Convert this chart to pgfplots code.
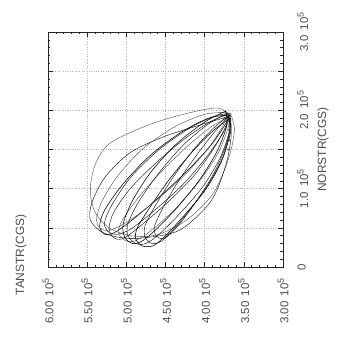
\documentclass[border=0pt]{standalone}
\usepackage{pgfplots}
\pgfplotsset{compat=1.18}
\usepackage{fontspec}
\setmainfont{Liberation Sans}
\definecolor{curve}{HTML}{4A4A4A}
\newcommand{\ef}{\hspace{0.45em}10\raisebox{0.75ex}{\fontsize{9}{9}\selectfont 5}}
\begin{document}
\begin{tikzpicture}
\begin{axis}[
  scale only axis, width=235bp, height=235bp,
  xmin=3, xmax=6, ymin=0, ymax=3, x dir=reverse,
  xtick={3,3.5,4,4.5,5,5.5,6},
  xticklabels={3.00\ef,3.50\ef,4.00\ef,4.50\ef,5.00\ef,5.50\ef,6.00\ef},
  ytick={0,0.5,1,1.5,2,2.5,3},
  yticklabels={0,,1.0\ef,,2.0\ef,,3.0\ef},
  yticklabel pos=right,
  minor x tick num=4, minor y tick num=4,
  tick align=inside, xtick pos=both, ytick pos=both,
  major tick length=5bp, minor tick length=2.5bp,
  tick style={black!85, line width=0.6pt},
  axis line style={black!85, line width=0.9pt},
  grid=major, grid style={dotted, gray!60, line width=0.5pt},
  xticklabel style={rotate=90, anchor=east, font=\fontsize{11.5}{14}\selectfont, xshift=-8bp, text=black!70},
  yticklabel style={rotate=90, anchor=north, font=\fontsize{11.5}{14}\selectfont, yshift=-11bp, text=black!70},
  cycle list={{curve, solid, line width=0.55pt, mark=none}},
  every axis plot/.append style={smooth},
]
% outer loops
\addplot coordinates {(3.66,1.93) (3.84,2.03) (4.23,1.96) (4.70,1.82) (5.21,1.58) (5.40,1.30) (5.46,0.98) (5.40,0.70) (5.22,0.50) (4.95,0.40) (4.61,0.41) (4.23,0.60) (3.89,0.94) (3.69,1.40) (3.62,1.75) (3.66,1.93)};
\addplot coordinates {(3.70,1.92) (4.10,1.80) (4.53,1.66) (4.95,1.46) (5.27,1.15) (5.44,0.82) (5.46,0.60) (5.32,0.45) (5.10,0.38) (4.80,0.37) (4.32,0.47) (3.92,0.84) (3.73,1.30) (3.66,1.70) (3.70,1.92)};
% narrow loops
\addplot coordinates {(3.69,1.94) (3.95,1.90) (4.30,1.72) (4.70,1.42) (5.05,1.05) (5.28,0.72) (5.34,0.52) (5.28,0.42) (5.15,0.44) (4.90,0.62) (4.55,0.92) (4.20,1.25) (3.90,1.58) (3.72,1.85) (3.69,1.94)};
\addplot coordinates {(3.70,1.95) (3.92,1.86) (4.25,1.64) (4.62,1.33) (4.95,1.00) (5.16,0.70) (5.22,0.50) (5.17,0.38) (5.05,0.36) (4.85,0.50) (4.50,0.80) (4.15,1.15) (3.88,1.52) (3.72,1.82) (3.70,1.95)};
\addplot coordinates {(3.68,1.92) (3.90,1.80) (4.20,1.56) (4.55,1.22) (4.85,0.88) (5.05,0.60) (5.10,0.44) (5.02,0.34) (4.90,0.33) (4.70,0.45) (4.40,0.72) (4.08,1.08) (3.83,1.45) (3.70,1.78) (3.68,1.92)};
\addplot coordinates {(3.71,1.96) (3.96,1.82) (4.28,1.55) (4.60,1.18) (4.85,0.82) (4.98,0.55) (4.98,0.40) (4.88,0.30) (4.75,0.30) (4.58,0.42) (4.32,0.68) (4.02,1.03) (3.80,1.40) (3.68,1.76) (3.71,1.96)};
\addplot coordinates {(3.67,1.90) (3.88,1.75) (4.15,1.48) (4.45,1.12) (4.70,0.76) (4.86,0.50) (4.88,0.36) (4.80,0.27) (4.66,0.27) (4.50,0.40) (4.26,0.66) (3.98,1.00) (3.78,1.36) (3.67,1.72) (3.67,1.90)};
\addplot coordinates {(3.70,1.93) (3.90,1.76) (4.14,1.50) (4.40,1.15) (4.62,0.80) (4.76,0.53) (4.76,0.38) (4.67,0.30) (4.55,0.33) (4.40,0.48) (4.18,0.74) (3.95,1.06) (3.77,1.40) (3.68,1.74) (3.70,1.93)};
\addplot coordinates {(3.72,1.97) (4.00,1.95) (4.40,1.78) (4.80,1.50) (5.12,1.15) (5.32,0.82) (5.38,0.60) (5.32,0.48) (5.18,0.48) (4.95,0.60) (4.62,0.85) (4.25,1.18) (3.95,1.52) (3.76,1.82) (3.72,1.97)};
\addplot coordinates {(3.66,1.96) (3.86,1.93) (4.18,1.78) (4.58,1.50) (4.94,1.15) (5.18,0.80) (5.28,0.56) (5.22,0.44) (5.10,0.42) (4.92,0.50) (4.62,0.74) (4.28,1.05) (3.98,1.40) (3.76,1.72) (3.66,1.96)};
\addplot coordinates {(3.73,1.99) (4.00,1.85) (4.35,1.58) (4.68,1.22) (4.92,0.85) (5.04,0.55) (5.02,0.38) (4.92,0.30) (4.80,0.33) (4.62,0.48) (4.35,0.76) (4.06,1.12) (3.84,1.48) (3.72,1.80) (3.73,1.99)};
\addplot coordinates {(3.68,1.94) (3.86,1.74) (4.08,1.46) (4.32,1.12) (4.52,0.78) (4.64,0.52) (4.62,0.40) (4.54,0.36) (4.44,0.42) (4.28,0.60) (4.08,0.88) (3.88,1.20) (3.74,1.52) (3.67,1.78) (3.68,1.94)};
\addplot[only marks, mark=*, mark size=0.7pt, curve] coordinates {(3.69,1.75) (3.68,1.62) (3.70,1.50) (3.67,1.88) (3.70,1.95) (3.75,1.90)};
\end{axis}
\node[rotate=90, anchor=center, font=\fontsize{12}{14}\selectfont, text=black!70] at ([shift={(-27bp,12bp)}]current axis.south west) {TANSTR(CGS)};
\node[rotate=90, anchor=center, font=\fontsize{12}{14}\selectfont, text=black!70] at ([shift={(40bp,0bp)}]current axis.east) {NORSTR(CGS)};
\pgfresetboundingbox
\path ([shift={(-48bp,-76bp)}]current axis.south west) rectangle ([shift={(54bp,32bp)}]current axis.north east);
\end{tikzpicture}
\end{document}
